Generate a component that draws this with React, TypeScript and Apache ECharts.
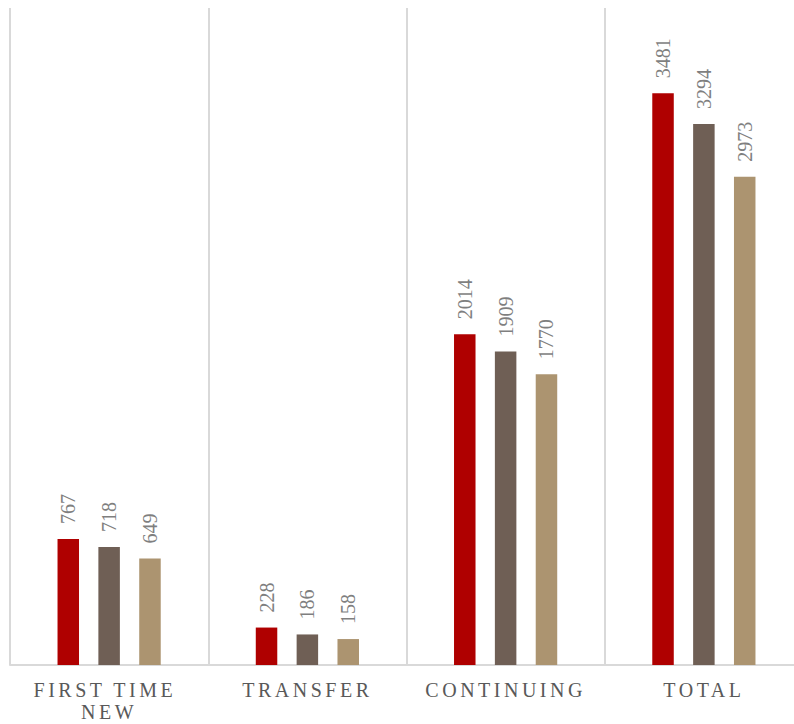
import React, { useEffect, useRef } from "react";
import * as echarts from "echarts";

const categories = ["FIRST TIME NEW", "TRANSFER", "CONTINUING", "TOTAL"];
const series1 = [767, 228, 2014, 3481];
const series2 = [718, 186, 1909, 3294];
const series3 = [649, 158, 1770, 2973];
const seriesColors = ["#AF0000", "#6F5F55", "#AC9470"];

const SERIF = "'Liberation Serif', 'DejaVu Serif', serif";

export default function App() {
  const ref = useRef<HTMLDivElement>(null);
  useEffect(() => {
    document.body.style.margin = "0";
    document.body.style.overflow = "hidden";
    document.documentElement.style.overflow = "hidden";
    if (!ref.current) return;
    const chart = echarts.init(ref.current, null, { renderer: "svg" });
    const labelStyle = {
      show: true,
      position: "top" as const,
      rotate: 90,
      align: "left" as const,
      verticalAlign: "middle" as const,
      distance: 15,
      color: "#7F7F7F",
      fontFamily: SERIF,
      fontSize: 20,
    };
    const mk = (data: number[], color: string) => ({
      type: "bar",
      data,
      barWidth: 21.5,
      barGap: "90%",
      itemStyle: { color },
      label: labelStyle,
    });
    chart.setOption({
      animation: false,
      grid: { left: 10, top: 8, right: 0, height: 657, containLabel: false },
      xAxis: {
        type: "category",
        data: categories,
        axisLine: { show: true, lineStyle: { color: "#D9D9D9", width: 2 } },
        axisTick: { show: false },
        splitLine: { show: true, lineStyle: { color: "#D9D9D9", width: 2 } },
        axisLabel: {
          interval: 0,
          margin: 14,
          color: "#595959",
          fontFamily: SERIF,
          fontSize: 20,
          lineHeight: 22,
          width: 150,
          overflow: "break",
        },
      },
      yAxis: {
        type: "value",
        min: 0,
        max: 4000,
        show: false,
        splitLine: { show: false },
      },
      series: [
        mk(series1, seriesColors[0]),
        mk(series2, seriesColors[1]),
        mk(series3, seriesColors[2]),
      ],
    });
    const words = new Set<string>();
    categories.forEach((c) => c.split(" ").forEach((w) => words.add(w)));
    const applySpacing = () => {
      if (!ref.current) return;
      ref.current.querySelectorAll("text").forEach((t) => {
        const s = (t.textContent || "").trim();
        if (s && s.split(" ").every((w) => words.has(w))) {
          (t as SVGTextElement).style.letterSpacing = "3.5px";
        }
      });
    };
    applySpacing();
    chart.on("finished", applySpacing);
    return () => chart.dispose();
  }, []);
  return <div ref={ref} style={{ width: 803, height: 724 }} />;
}
